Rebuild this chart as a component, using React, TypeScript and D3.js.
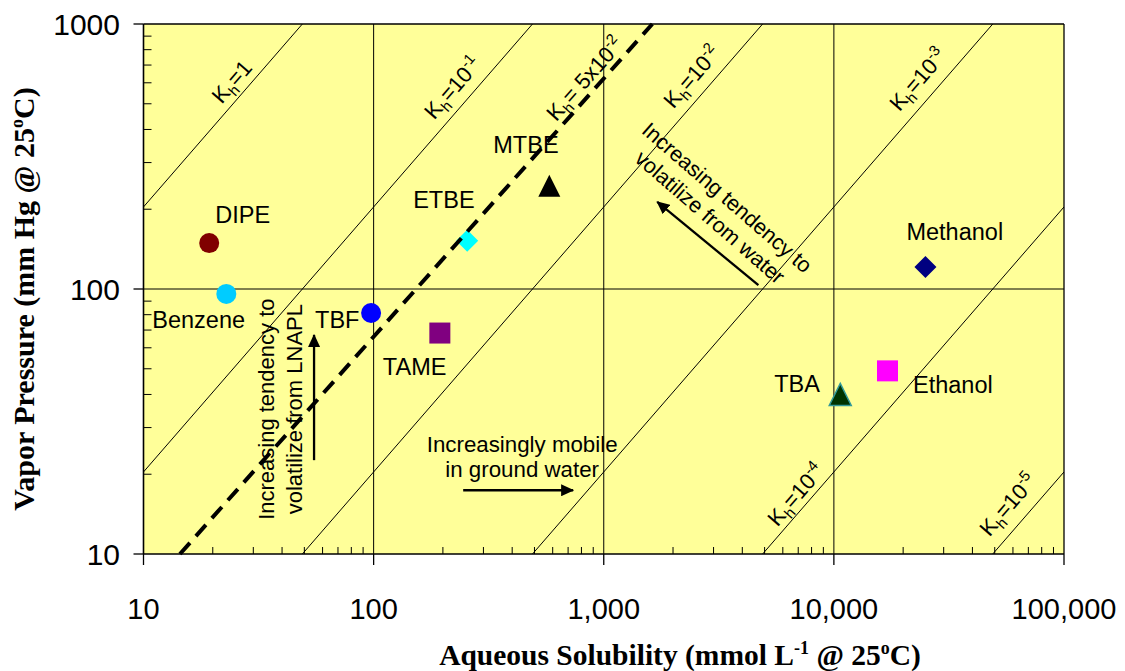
import React from 'react';
import * as d3 from 'd3';

// ---------- data ----------
const xTicks = [10, 100, 1000, 10000, 100000];
const xTickLabels = ['10', '100', '1,000', '10,000', '100,000'];
const yTicks = [10, 100, 1000];
const yTickLabels = ['10', '100', '1000'];
const xGrid = [100, 1000, 10000];
const yGrid = [100];

const compounds = ['DIPE', 'Benzene', 'TBF', 'TAME', 'ETBE', 'MTBE', 'Methanol', 'Ethanol', 'TBA'];
const solubility = [19.3, 22.9, 97.5, 194, 255, 580, 25000, 17100, 10660];
const vaporPressure = [149, 95.8, 81.2, 68.2, 152, 245, 121, 49.1, 40.0];
const markerShapes = ['circle', 'circle', 'circle', 'square', 'diamond', 'triangle', 'diamond', 'square', 'triangle'];
const markerColors = ['#800000', '#00CCFF', '#0000FF', '#800080', '#00FFFF', '#000000', '#000080', '#FF00FF', '#003300'];

// Henry's constant lines: P = factor * Kh * S
const khValues = [1, 0.1, 0.01, 0.001, 0.0001, 0.00001];
const khMantissa = ['1', '10', '10', '10', '10', '10'];
const khExponents = ['', '-1', '-2', '-3', '-4', '-5'];
const khFactor = 20.4;
const khLabelS = [24.3, 221.6, 2427, 23280, 6871, 57370];
const khLabelP = [604, 573, 631, 615, 16.7, 15.3];

// dashed Kh = 5x10^-2 line (as drawn)
const dashedS = [14.4, 1626];
const dashedP = [10, 1000];
const dashedLabelS = 831;
const dashedLabelP = 620;

// annotations
const noteLnaplLines = ['Increasing tendency to', 'volatilize from LNAPL'];
const noteLnaplAt = [36.9, 35.2];
const noteWaterLines = ['Increasing tendency to', 'volatilize from water'];
const noteWaterAt = [3273, 211];
const noteMobileLines = ['Increasingly mobile', 'in ground water'];
const noteMobileAt = [442, 24.3];
const arrowUp = [[55.1, 22.6], [55.1, 67.1]];
const arrowRight = [[245, 17.4], [736, 17.4]];
const arrowDiag = [[4699, 103.5], [1708, 213]];

// ---------- layout ----------
const W = 1125;
const H = 671;
const plot = { left: 143.5, right: 1064, top: 24, bottom: 554 };
const labelOffsets: [number, number][] = [
  [6, -20], [-74, 34], [-56, 15], [-57, 42], [-54, -33], [-56, -33], [-19, -27], [25.5, 22], [-66, -2.5],
];
const SANS = 'Liberation Sans, Arial, Helvetica, sans-serif';
const SERIF = 'Liberation Serif, Times New Roman, serif';

function Marker({ shape, cx, cy, color }: { shape: string; cx: number; cy: number; color: string }) {
  if (shape === 'circle') return <circle cx={cx} cy={cy} r={10} fill={color} />;
  if (shape === 'square') return <rect x={cx - 10.5} y={cy - 10.5} width={21} height={21} fill={color} />;
  if (shape === 'diamond')
    return <path d={`M${cx},${cy - 11}L${cx + 11},${cy}L${cx},${cy + 11}L${cx - 11},${cy}Z`} fill={color} />;
  const isTBA = color === '#003300';
  return (
    <path
      d={`M${cx},${cy - 11}L${cx + 11},${cy + 11}L${cx - 11},${cy + 11}Z`}
      fill={color}
      stroke={isTBA ? '#339999' : 'none'}
      strokeWidth={1.5}
    />
  );
}

export default function App() {
  const x = d3.scaleLog().domain([10, 100000]).range([plot.left, plot.right]);
  const y = d3.scaleLog().domain([10, 1000]).range([plot.bottom, plot.top]);

  const xMinor = x.ticks().filter((t) => !xTicks.includes(t));
  const yMinor = y.ticks().filter((t) => !yTicks.includes(t));

  const angle = (-Math.atan2(y(10) - y(100), x(100) - x(10)) * 180) / Math.PI;
  const dAngle =
    (-Math.atan2(y(dashedP[0]) - y(dashedP[1]), x(dashedS[1]) - x(dashedS[0])) * 180) / Math.PI;
  const perpAngle = angle + 90;

  const line = d3.line<[number, number]>().x((d) => x(d[0])).y((d) => y(d[1]));

  const khSegments = khValues.map((kh) => {
    const s0 = Math.max(10, 10 / (khFactor * kh));
    const s1 = Math.min(100000, 1000 / (khFactor * kh));
    return [
      [s0, khFactor * kh * s0],
      [s1, khFactor * kh * s1],
    ] as [number, number][];
  });

  const arrow = (pts: number[][], key: string) => (
    <line
      key={key}
      x1={x(pts[0][0])}
      y1={y(pts[0][1])}
      x2={x(pts[1][0])}
      y2={y(pts[1][1])}
      stroke="#000"
      strokeWidth={2.3}
      markerEnd="url(#arrowHead)"
    />
  );

  return (
    <svg
      width={W}
      height={H}
      style={{ position: 'absolute', left: 0, top: 0, background: '#fff' }}
      fontFamily={SANS}
    >
      <defs>
        <marker id="arrowHead" markerUnits="userSpaceOnUse" markerWidth={14} markerHeight={12} refX={12} refY={6} orient="auto">
          <path d="M0,0L13,6L0,12Z" fill="#000" />
        </marker>
        <clipPath id="plotClip">
          <rect x={plot.left} y={plot.top} width={plot.right - plot.left} height={plot.bottom - plot.top} />
        </clipPath>
      </defs>

      {/* plot background */}
      <rect x={plot.left} y={plot.top} width={plot.right - plot.left} height={plot.bottom - plot.top} fill="#FFFF99" />

      {/* gridlines */}
      {xGrid.map((g) => (
        <line key={'xg' + g} x1={x(g)} x2={x(g)} y1={plot.top} y2={plot.bottom} stroke="#000" strokeWidth={1} />
      ))}
      {yGrid.map((g) => (
        <line key={'yg' + g} x1={plot.left} x2={plot.right} y1={y(g)} y2={y(g)} stroke="#000" strokeWidth={1} />
      ))}

      {/* point labels */}
      {compounds.map((c, i) => (
        <text
          key={'lab' + c}
          x={x(solubility[i]) + labelOffsets[i][0]}
          y={y(vaporPressure[i]) + labelOffsets[i][1]}
          fontSize={23.5}
          fill="#000"
        >
          {c}
        </text>
      ))}

      {/* annotations */}
      <g transform={`translate(${x(noteLnaplAt[0])},${y(noteLnaplAt[1])}) rotate(-90)`}>
        {noteLnaplLines.map((t, i) => (
          <text key={t} x={0} y={i * 28} textAnchor="middle" fontSize={22}>
            {t}
          </text>
        ))}
      </g>
      <g transform={`translate(${x(noteWaterAt[0])},${y(noteWaterAt[1])}) rotate(${perpAngle})`}>
        {noteWaterLines.map((t, i) => (
          <text key={t} x={0} y={i * 26} textAnchor="middle" fontSize={21.5}>
            {t}
          </text>
        ))}
      </g>
      <g transform={`translate(${x(noteMobileAt[0])},${y(noteMobileAt[1])})`}>
        {noteMobileLines.map((t, i) => (
          <text key={t} x={0} y={i * 25} textAnchor="middle" fontSize={22.3}>
            {t}
          </text>
        ))}
      </g>
      {arrow(arrowUp, 'au')}
      {arrow(arrowRight, 'ar')}
      {arrow(arrowDiag, 'ad')}

      {/* markers */}
      {compounds.map((c, i) => (
        <Marker key={'m' + c} shape={markerShapes[i]} cx={x(solubility[i])} cy={y(vaporPressure[i])} color={markerColors[i]} />
      ))}

      {/* Kh lines */}
      <g clipPath="url(#plotClip)">
        {khSegments.map((seg, i) => (
          <path key={'kh' + i} d={line(seg) || ''} stroke="#000" strokeWidth={1} fill="none" />
        ))}
      </g>
      <path
        d={line([[dashedS[0], dashedP[0]], [dashedS[1], dashedP[1]]]) || ''}
        stroke="#000"
        strokeWidth={4}
        strokeDasharray="15 9"
        fill="none"
      />

      {/* Kh labels */}
      {khValues.map((kh, i) => (
        <g key={'khl' + i} transform={`translate(${x(khLabelS[i])},${y(khLabelP[i])}) rotate(${angle})`}>
          <text textAnchor="middle" y={7} fontSize={22}>
            K<tspan dy={5} fontSize={15}>h</tspan>
            <tspan dy={-5}>={khMantissa[i]}</tspan>
            {khExponents[i] ? (
              <tspan dy={-9} fontSize={15}>
                {khExponents[i]}
              </tspan>
            ) : null}
          </text>
        </g>
      ))}
      <g transform={`translate(${x(dashedLabelS)},${y(dashedLabelP)}) rotate(${dAngle})`}>
        <text textAnchor="middle" y={7} fontSize={22}>
          K<tspan dy={5} fontSize={15}>h</tspan>
          <tspan dy={-5}>= 5x10</tspan>
          <tspan dy={-9} fontSize={15}>-2</tspan>
        </text>
      </g>

      {/* frame */}
      <line x1={plot.left} x2={plot.right} y1={plot.top} y2={plot.top} stroke="#000" strokeWidth={1.3} />
      <line x1={plot.right} x2={plot.right} y1={plot.top} y2={plot.bottom} stroke="#000" strokeWidth={1.3} />
      <line x1={plot.left} x2={plot.right} y1={plot.bottom} y2={plot.bottom} stroke="#000" strokeWidth={1.6} />
      <line x1={plot.left} x2={plot.left} y1={plot.top} y2={plot.bottom} stroke="#000" strokeWidth={1.6} />

      {/* x ticks */}
      {xTicks.map((t) => (
        <line key={'xt' + t} x1={x(t)} x2={x(t)} y1={plot.bottom} y2={plot.bottom + 11} stroke="#000" strokeWidth={1.3} />
      ))}
      {xMinor.map((t) => (
        <line key={'xm' + t} x1={x(t)} x2={x(t)} y1={plot.bottom} y2={plot.bottom - 7} stroke="#000" strokeWidth={1} />
      ))}
      {xTicks.map((t, i) => (
        <text key={'xl' + t} x={x(t)} y={plot.bottom + 65} textAnchor="middle" fontSize={29}>
          {xTickLabels[i]}
        </text>
      ))}

      {/* y ticks */}
      {yTicks.map((t) => (
        <line key={'yt' + t} x1={plot.left - 10} x2={plot.left} y1={y(t)} y2={y(t)} stroke="#000" strokeWidth={1.3} />
      ))}
      {yMinor.map((t) => (
        <line key={'ym' + t} x1={plot.left} x2={plot.left + 8} y1={y(t)} y2={y(t)} stroke="#000" strokeWidth={1} />
      ))}
      {yTicks.map((t, i) => (
        <text key={'yl' + t} x={plot.left - 23.5} y={y(t)} dy="0.35em" textAnchor="end" fontSize={30}>
          {yTickLabels[i]}
        </text>
      ))}

      {/* axis titles */}
      <text x={680} y={665} textAnchor="middle" fontFamily={SERIF} fontWeight="bold" fontSize={29.5}>
        Aqueous Solubility (mmol L<tspan dy={-11} fontSize={18}>-1</tspan>
        <tspan dy={11}> @ 25</tspan>
        <tspan dy={-11} fontSize={18}>o</tspan>
        <tspan dy={11}>C)</tspan>
      </text>
      <text
        transform="translate(34,299) rotate(-90)"
        textAnchor="middle"
        fontFamily={SERIF}
        fontWeight="bold"
        fontSize={30}
      >
        Vapor Pressure (mm Hg @ 25<tspan dy={-11} fontSize={18}>o</tspan>
        <tspan dy={11}>C)</tspan>
      </text>
    </svg>
  );
}
